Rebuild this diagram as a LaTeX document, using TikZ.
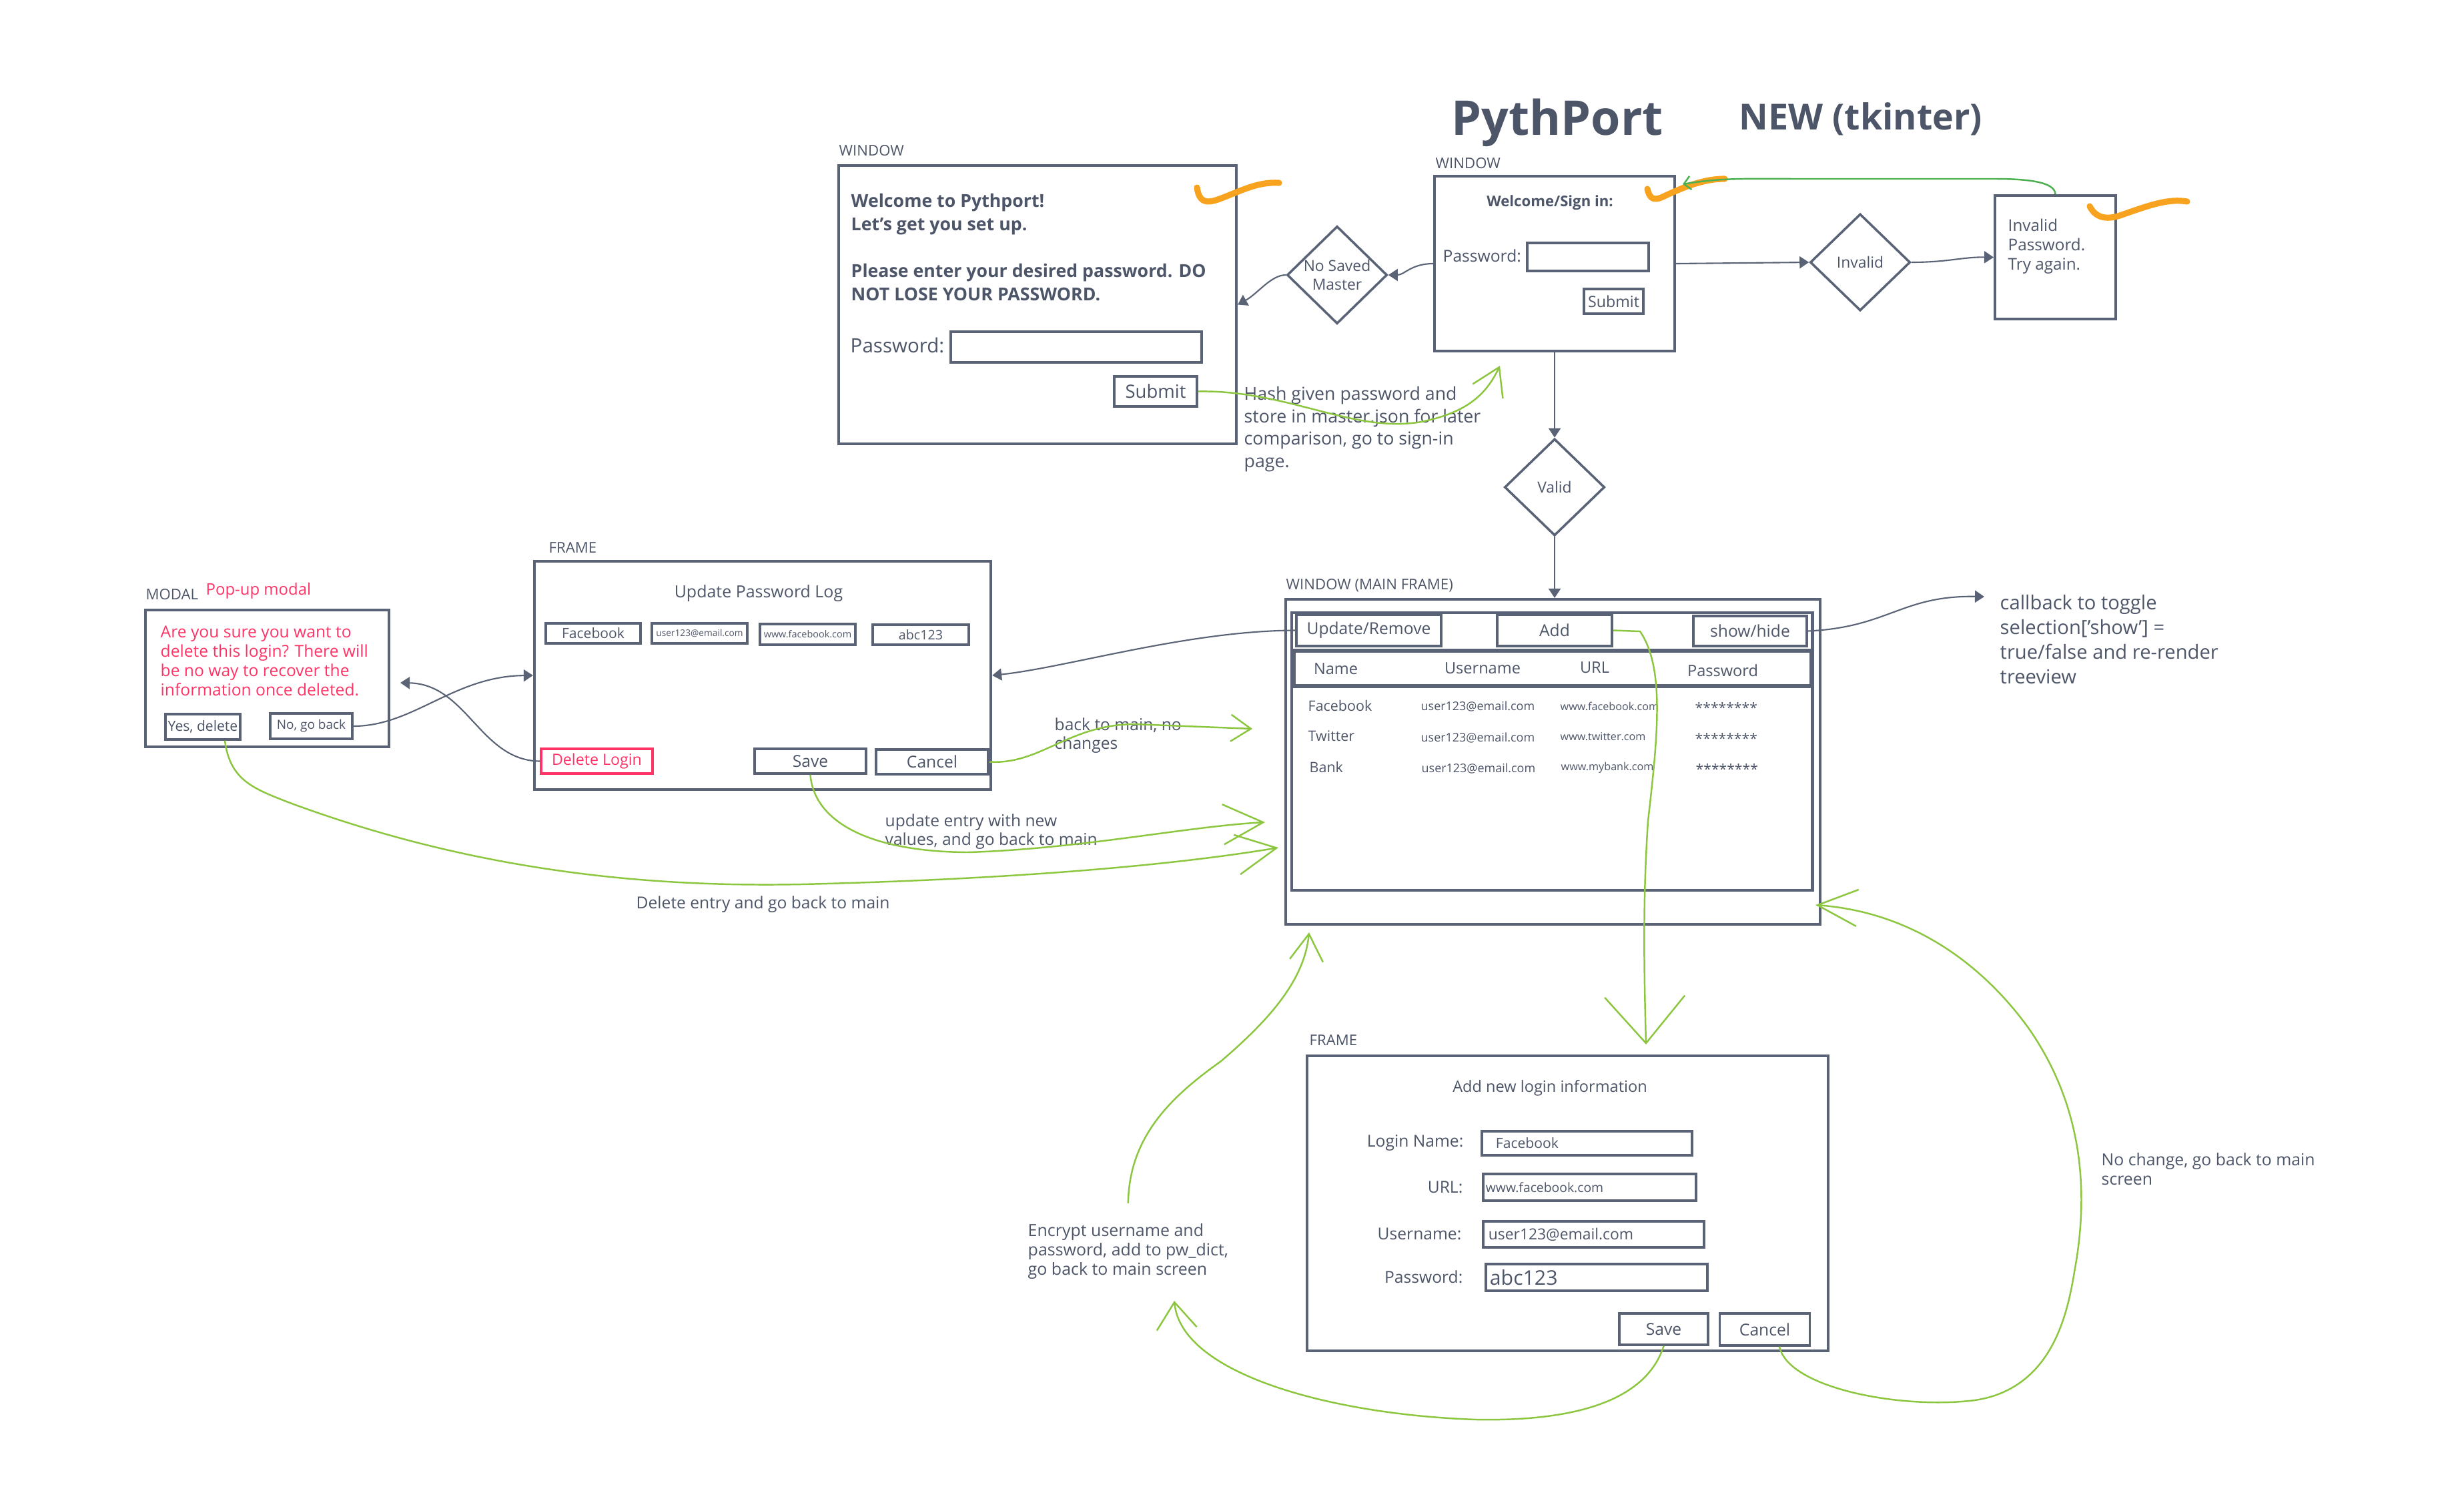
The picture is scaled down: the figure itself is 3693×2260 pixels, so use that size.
\documentclass[tikz,border=0pt]{standalone}
\usepackage{fontspec}
\setmainfont{Open Sans}
\usetikzlibrary{arrows.meta,shapes.geometric}
\definecolor{slate}{HTML}{5A6275}
\definecolor{ink}{HTML}{4D5568}
\definecolor{leaf}{HTML}{8CC63F}
\definecolor{retrygreen}{HTML}{4CAF50}
\definecolor{marker}{HTML}{F8A320}
\definecolor{alert}{HTML}{FF3366}
\newcommand\fsz[2]{\fontsize{#1}{#2}\selectfont}
\tikzset{
  winbox/.style={draw=slate, line width=1.1pt, inner sep=0pt},
  btn/.style={draw=slate, line width=1pt, inner sep=0pt, text=ink, font=\fsz{7}{9}},
  entry/.style={draw=slate, line width=1pt, inner sep=0pt, text=ink, align=left},
  choice/.style={diamond, draw=slate, line width=1pt, inner sep=0pt, minimum width=1.5cm, minimum height=1.45cm, text=ink, align=center, font=\fsz{6.5}{8}},
  tag/.style={text=ink, inner sep=0pt, anchor=base west, font=\fsz{6.3}{8}},
  txt/.style={text=ink, inner sep=0pt, align=left},
  flow/.style={draw=slate, line width=0.6pt, -{Triangle[length=1.4mm,width=1.8mm]}},
  sketch/.style={draw=leaf, line width=0.7pt, -{Straight Barb[length=4mm,width=5mm]}},
  checkmark/.style={draw=marker, line width=2.6pt, line cap=round, line join=round}
}
\begin{document}
\begin{tikzpicture}[x=0.01cm, y=-0.01cm]
  \useasboundingbox (0,0) rectangle (3693,2260);

  % title
  \node[txt, anchor=base west, font=\fsz{20.4}{24}\bfseries] (title) at (2175,202) {PythPort};
  \node[txt, anchor=base west, font=\fsz{15.3}{18}\bfseries] (subtitle) at (2606,194) {NEW (tkinter)};

  % first run window
  \node[tag] (setuptag) at (1257,233) {WINDOW};
  \node[winbox, minimum width=5.96cm, minimum height=4.17cm] (setupwin) at (1555,456.5) {};
  \node[txt, anchor=north west, font=\fsz{7.6}{10}\bfseries] (setupmsg) at (1275,289) {Welcome to Pythport!\\Let's get you set up.\\[10pt]Please enter your desired password. DO\\NOT LOSE YOUR PASSWORD.};
  \node[txt, anchor=base west, font=\fsz{8.4}{10}] (setuppwlbl) at (1274,528) {Password:};
  \node[entry, minimum width=3.76cm, minimum height=0.46cm] (setuppw) at (1613,520) {};
  \node[btn, font=\fsz{7.8}{10}, minimum width=1.24cm, minimum height=0.45cm] (setupsubmit) at (1732,586.5) {Submit};
  \draw[checkmark] (1794,281) .. controls (1797,300) and (1804,307) .. (1828,298) .. controls (1860,286) and (1885,272) .. (1917,274);

  % sign in window
  \node[tag] (signtag) at (2151,252) {WINDOW};
  \node[winbox, minimum width=3.6cm, minimum height=2.62cm] (signin) at (2330,395) {};
  \node[txt, anchor=base, font=\fsz{6.3}{8}\bfseries] (signhead) at (2323,309) {Welcome/Sign in:};
  \node[txt, anchor=base west, font=\fsz{7}{9}] (signpwlbl) at (2162,392) {Password:};
  \node[entry, minimum width=1.82cm, minimum height=0.42cm] (signpw) at (2380,385) {};
  \node[btn, font=\fsz{6.6}{8}, minimum width=0.89cm, minimum height=0.37cm] (signsubmit) at (2418.5,451.5) {Submit};
  \draw[checkmark] (2469,283) .. controls (2472,296) and (2477,302) .. (2492,295) .. controls (2522,281) and (2552,268) .. (2585,268);

  % decisions
  \node[choice] (nosaved) at (2004,412) {No Saved\\Master};
  \node[choice] (invalid) at (2788,393) {Invalid};
  \node[choice] (valid) at (2330,730) {Valid};

  % invalid password window
  \node[winbox, minimum width=1.81cm, minimum height=1.85cm] (invalidbox) at (3080.5,385.5) {};
  \node[txt, anchor=north west, font=\fsz{6.9}{8.3}] (invalidmsg) at (3009,327) {Invalid\\Password.\\Try again.};
  \draw[checkmark] (3132,309) .. controls (3140,325) and (3155,331) .. (3180,322) .. controls (3220,308) and (3250,297) .. (3278,302);

  % main window
  \node[tag] (maintag) at (1927,883) {WINDOW (MAIN FRAME)};
  \node[winbox, minimum width=8.01cm, minimum height=4.87cm] (mainwin) at (2327.5,1141.5) {};
  \node[winbox, line width=1.3pt, minimum width=7.8cm, minimum height=4.16cm] (tree) at (2326,1126) {};
  \node[winbox, line width=1.5pt, minimum width=7.74cm, minimum height=0.53cm] (treehead) at (2327,1001.5) {};
  \node[btn, minimum width=2.17cm, minimum height=0.47cm] (updbtn) at (2051.5,944.5) {Update/Remove};
  \node[btn, minimum width=1.72cm, minimum height=0.47cm] (addbtn) at (2330,944.5) {Add};
  \node[btn, minimum width=1.70cm, minimum height=0.45cm] (showbtn) at (2623,945.5) {show/hide};
  \node[txt, font=\fsz{6.7}{8}] (colname) at (2002,1002) {Name};
  \node[txt, font=\fsz{6.7}{8}] (coluser) at (2222,1001) {Username};
  \node[txt, font=\fsz{6.7}{8}] (colurl) at (2390,1000) {URL};
  \node[txt, font=\fsz{6.7}{8}] (colpw) at (2582,1005) {Password};
  \node[txt, anchor=west, font=\fsz{6.1}{7}] (fbname) at (1960,1057) {Facebook};
  \node[txt, anchor=west, font=\fsz{5.1}{6}] (fbuser) at (2129,1058) {user123@email.com};
  \node[txt, anchor=west, font=\fsz{4.6}{6}] (fburl) at (2338,1058) {www.facebook.com};
  \node[txt, anchor=west, font=\fsz{6}{7}] (fbpw) at (2540,1060) {********};
  \node[txt, anchor=west, font=\fsz{6.1}{7}] (twname) at (1960,1103) {Twitter};
  \node[txt, anchor=west, font=\fsz{5.1}{6}] (twuser) at (2129,1105) {user123@email.com};
  \node[txt, anchor=west, font=\fsz{4.6}{6}] (twurl) at (2338,1104) {www.twitter.com};
  \node[txt, anchor=west, font=\fsz{6}{7}] (twpw) at (2540,1106) {********};
  \node[txt, anchor=west, font=\fsz{6.1}{7}] (bkname) at (1962,1149) {Bank};
  \node[txt, anchor=west, font=\fsz{5.1}{6}] (bkuser) at (2130,1151) {user123@email.com};
  \node[txt, anchor=west, font=\fsz{4.6}{6}] (bkurl) at (2339,1150) {www.mybank.com};
  \node[txt, anchor=west, font=\fsz{6}{7}] (bkpw) at (2541,1152) {********};
  \node[txt, anchor=west, font=\fsz{8.3}{10.5}] (cbtext) at (2997,958) {callback to toggle\\selection['show'] =\\true/false and re-render\\treeview};

  % update frame
  \node[tag] (updtag) at (822,828) {FRAME};
  \node[winbox, minimum width=6.84cm, minimum height=3.42cm] (updwin) at (1143,1012) {};
  \node[txt, font=\fsz{7.1}{9}] (updtitle) at (1137,889) {Update Password Log};
  \node[entry, font=\fsz{6}{7}, align=center, minimum width=1.42cm, minimum height=0.30cm] (updname) at (889,949) {Facebook};
  \node[entry, font=\fsz{3.9}{5}, align=center, minimum width=1.43cm, minimum height=0.30cm] (upduser) at (1048.5,949) {user123@email.com};
  \node[entry, font=\fsz{4.1}{5}, align=center, minimum width=1.43cm, minimum height=0.31cm] (updurl) at (1210.5,950.5) {www.facebook.com};
  \node[entry, font=\fsz{5.6}{7}, align=center, minimum width=1.44cm, minimum height=0.30cm] (updpw) at (1380,951) {abc123};
  \node[btn, draw=alert, text=alert, font=\fsz{6.6}{8}, minimum width=1.67cm, minimum height=0.37cm] (delbtn) at (894.5,1140.5) {Delete Login};
  \node[btn, minimum width=1.67cm, minimum height=0.37cm] (updsave) at (1214.5,1140.5) {Save};
  \node[btn, minimum width=1.68cm, minimum height=0.37cm] (updcancel) at (1397,1141.5) {Cancel};

  % delete modal
  \node[tag] (modaltag) at (218,898) {MODAL};
  \node[txt, anchor=base west, text=alert, font=\fsz{6.8}{8}] (modalnote) at (308,891) {Pop-up modal};
  \node[winbox, minimum width=3.65cm, minimum height=2.05cm] (modal) at (400.5,1016.5) {};
  \node[txt, anchor=west, text=alert, font=\fsz{7}{8.25}] (modalmsg) at (240,990) {Are you sure you want to\\delete this login? There will\\be no way to recover the\\information once deleted.};
  \node[btn, font=\fsz{6}{7}, minimum width=1.12cm, minimum height=0.38cm] (yesbtn) at (304,1089) {Yes, delete};
  \node[btn, font=\fsz{5.4}{7}, minimum width=1.23cm, minimum height=0.38cm] (nobtn) at (466.5,1088) {No, go back};

  % add frame
  \node[tag] (addtag) at (1962,1566) {FRAME};
  \node[winbox, minimum width=7.81cm, minimum height=4.42cm] (addwin) at (2349.5,1803) {};
  \node[txt, anchor=base, font=\fsz{6.7}{8}] (addtitle) at (2323,1636) {Add new login information};
  \node[txt, anchor=base east, font=\fsz{7}{9}] (loginlbl) at (2194,1718) {Login Name:};
  \node[txt, anchor=base east, font=\fsz{7}{9}] (urllbl) at (2193,1787) {URL:};
  \node[txt, anchor=base east, font=\fsz{7}{9}] (userlbl) at (2191,1857) {Username:};
  \node[txt, anchor=base east, font=\fsz{7}{9}] (pwlbl) at (2193,1922) {Password:};
  \node[entry, font=\fsz{6}{7}, inner xsep=0.21cm, text width=2.73cm, minimum height=0.36cm] (loginfld) at (2378.5,1713) {Facebook};
  \node[entry, font=\fsz{5.5}{7}, inner xsep=0.04cm, text width=3.11cm, minimum height=0.40cm] (urlfld) at (2382.5,1779) {www.facebook.com};
  \node[entry, font=\fsz{6.5}{8}, inner xsep=0.08cm, text width=3.15cm, minimum height=0.39cm] (userfld) at (2388.5,1849.5) {user123@email.com};
  \node[entry, font=\fsz{8.6}{10}, inner xsep=0.06cm, text width=3.20cm, minimum height=0.40cm] (pwfld) at (2393,1914) {abc123};
  \node[btn, minimum width=1.33cm, minimum height=0.47cm] (addsave) at (2493.5,1991.5) {Save};
  \node[btn, minimum width=1.35cm, minimum height=0.48cm] (addcancel) at (2645,1992) {Cancel};

  % notes beside the green strokes
  \node[txt, anchor=west, font=\fsz{7.6}{9.5}] (hashtxt) at (1864,643) {Hash given password and\\store in master.json for later\\comparison, go to sign-in\\page.};
  \node[txt, anchor=west, font=\fsz{7}{8}] (backtxt) at (1580,1102) {back to main, no\\changes};
  \node[txt, anchor=west, font=\fsz{7}{8}] (updtxt) at (1326,1246) {update entry with new\\values, and go back to main};
  \node[txt, anchor=base west, font=\fsz{7}{9}] (deltxt) at (953,1361) {Delete entry and go back to main};
  \node[txt, anchor=west, font=\fsz{7.1}{8.2}] (enctxt) at (1540,1875) {Encrypt username and\\password, add to pw\_dict,\\go back to main screen};
  \node[txt, anchor=west, font=\fsz{7.05}{8.2}] (nochgtxt) at (3149,1752) {No change, go back to main\\screen};

  % loose ends
  \coordinate (hashtip) at (2248,548);
  \coordinate (retry) at (2522,276);
  \coordinate (cbin) at (2974,894);
  \coordinate (modalin) at (600,1023);
  \coordinate (backtip) at (1877,1092);
  \coordinate (updtip) at (1896,1232);
  \coordinate (deltip) at (1916,1270);
  \coordinate (addtip) at (2467,1565);
  \coordinate (enctip) at (1962,1397);
  \coordinate (savetip) at (1760,1949);
  \coordinate (nochgtip) at (2721,1356);

  % flow arrows
  \draw[flow] (signin.west) .. controls (2115,395) and (2105,412) .. (nosaved.east);
  \draw[flow] (nosaved.west) .. controls (1905,412) and (1885,440) .. (setupwin.east);
  \draw[flow] (signin.east) -- (invalid.west);
  \draw[flow] (invalid.east) .. controls (2920,393) and (2940,385) .. (invalidbox.west);
  \draw[flow] (signin.south) -- (valid.north);
  \draw[flow] (valid.south) -- (valid.south |- mainwin.north);
  \draw[flow] (updbtn.west) .. controls (1780,945) and (1600,1000) .. (updwin.east);
  \draw[flow] (showbtn.east) .. controls (2830,940) and (2850,892) .. (cbin);
  \draw[flow] (nobtn.east) .. controls (620,1088) and (680,1013) .. (updwin.west);
  \draw[flow] (delbtn.west) .. controls (720,1140) and (700,1025) .. (modalin);

  % hand drawn returns
  \draw[sketch, draw=retrygreen, Straight Barb-] (retry) .. controls (2580,266) and (2620,268) .. (2700,268) -- (2990,268) .. controls (3050,268) and (3080,275) .. (invalidbox.north);
  \draw[sketch] (setupsubmit.east) .. controls (1930,584) and (2030,650) .. (2130,632) .. controls (2200,618) and (2228,590) .. (hashtip);
  \draw[sketch, -{Straight Barb[length=3mm,width=4mm]}] (updcancel.east) .. controls (1560,1146) and (1600,1086) .. (1700,1085) -- (backtip);
  \draw[sketch, -{Straight Barb[length=6mm,width=6mm]}] (updsave.south) .. controls (1220,1230) and (1300,1276) .. (1450,1277) .. controls (1620,1272) and (1780,1238) .. (updtip);
  \draw[sketch, -{Straight Barb[length=6mm,width=6mm]}] ([xshift=3.3mm]yesbtn.south) .. controls (345,1170) and (380,1182) .. (440,1205) .. controls (700,1300) and (950,1330) .. (1200,1325) .. controls (1500,1318) and (1750,1298) .. (deltip);
  \draw[sketch, -{Straight Barb[length=7mm,width=12mm]}] (addbtn.east) -- (2458,946) .. controls (2495,1000) and (2485,1100) .. (2470,1230) .. controls (2462,1350) and (2464,1450) .. (addtip);
  \draw[sketch, -{Straight Barb[length=4mm,width=5mm]}] ([yshift=3mm]enctxt.north) .. controls (1692,1700) and (1760,1640) .. (1830,1590) .. controls (1900,1530) and (1955,1470) .. (enctip);
  \draw[sketch, -{Straight Barb[length=4mm,width=6mm]}] (addsave.south) .. controls (2470,2090) and (2380,2130) .. (2213,2127) .. controls (2000,2120) and (1770,2060) .. (savetip);
  \draw[sketch, -{Straight Barb[length=6mm,width=5.5mm]}] ([xshift=2.2mm]addcancel.south) .. controls (2680,2080) and (2850,2112) .. (2960,2098) .. controls (3080,2080) and (3100,1960) .. (3110,1900) .. controls (3135,1760) and (3110,1640) .. (3040,1540) .. controls (2960,1430) and (2850,1365) .. (nochgtip);
\end{tikzpicture}
\end{document}
